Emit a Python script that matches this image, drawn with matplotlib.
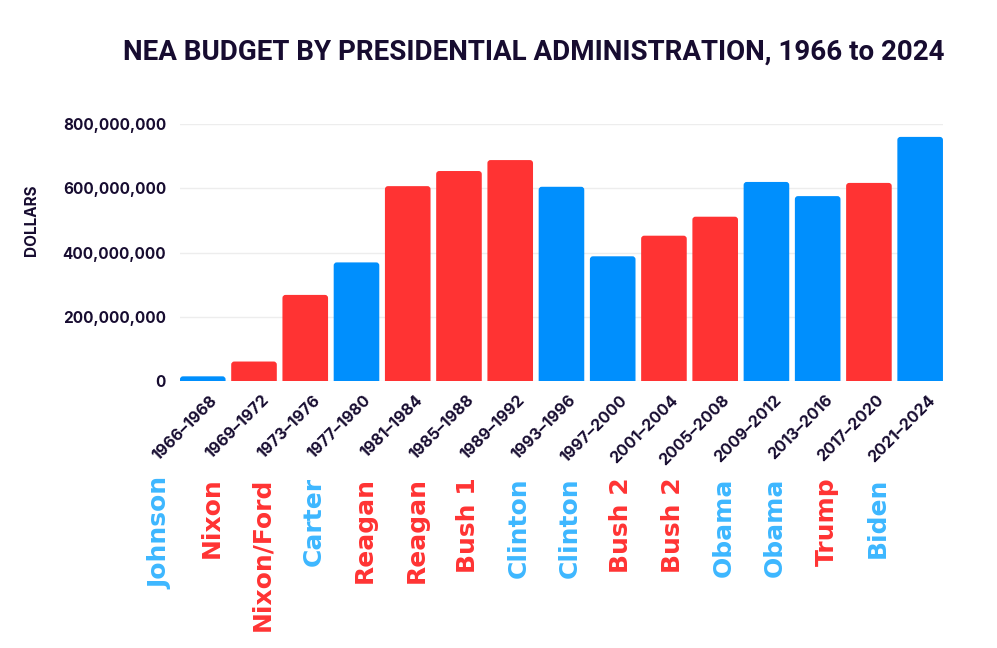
import matplotlib.pyplot as plt
import matplotlib.ticker as mticker
from matplotlib.patches import FancyBboxPatch
import numpy as np


terms = [
    "1966–1968", "1969–1972", "1973–1976", "1977–1980", "1981–1984",
    "1985–1988", "1989–1992", "1993–1996", "1997–2000", "2001–2004",
    "2005–2008", "2009–2012", "2013–2016", "2017–2020", "2021–2024",
]

presidents = [
    "Johnson", "Nixon", "Nixon/Ford", "Carter", "Reagan",
    "Reagan", "Bush 1", "Clinton", "Clinton", "Bush 2",
    "Bush 2", "Obama", "Obama", "Trump", "Biden",
]

# D = Democrat, R = Republican
parties = ["D", "R", "R", "D", "R", "R", "R", "D", "D", "R", "R", "D", "D", "R", "D"]

budget = [
    16e6, 62e6, 269e6, 370e6, 607e6,
    654e6, 688e6, 605e6, 389e6, 453e6,
    512e6, 620e6, 576e6, 617e6, 760e6,
]

y_ticks = [0, 200e6, 400e6, 600e6, 800e6]

BAR_COLORS  = {"D": "#008ffd", "R": "#ff3333"}
NAME_COLORS = {"D": "#3db7ff", "R": "#ff3333"}
DARK = "#170c30"


fig = plt.figure(figsize=(9.97, 6.48), dpi=100)
ax = fig.add_axes([0.1805, 0.4113, 0.7653, 0.3973])

x = np.arange(len(terms))
bars = ax.bar(x, budget, width=0.89, color=[BAR_COLORS[p] for p in parties], zorder=3)

ax.set_xlim(-0.445, len(terms) - 1 + 0.445)
ax.set_ylim(0, 800e6)

# swap plain bars for ones with slightly rounded corners
# (bottom pushed below zero so only the top corners show)
aspect = (800e6 / 257.4) / (1 / 51.2)
for b in bars:
    b.set_visible(False)
    r = 0.06
    patch = FancyBboxPatch(
        (b.get_x(), -r * aspect), b.get_width(), b.get_height() + r * aspect,
        boxstyle=f"round,pad=0,rounding_size={r}", mutation_aspect=aspect,
        facecolor=b.get_facecolor(), edgecolor="none", zorder=3,
    )
    ax.add_patch(patch)

ax.set_yticks(y_ticks)
ax.yaxis.set_major_formatter(mticker.FuncFormatter(lambda v, _: f"{int(v):,}"))
ax.grid(axis="y", color="#ededed", linewidth=1, zorder=0)

for s in ax.spines.values():
    s.set_visible(False)

ax.tick_params(axis="both", length=0)
ax.tick_params(axis="y", pad=10)
for lbl in ax.get_yticklabels():
    lbl.set_fontfamily("Inter")
    lbl.set_fontweight("bold")
    lbl.set_fontsize(11)
    lbl.set_color(DARK)

ax.set_xticks(x)
ax.set_xticklabels([])

# rotated term labels under the bars
for i, t in enumerate(terms):
    ax.annotate(
        t, xy=(i, 0), xycoords=("data", "axes fraction"),
        xytext=(5, -8), textcoords="offset points",
        rotation=45, ha="right", va="top", rotation_mode="anchor",
        fontsize=11.5, fontweight="bold", family="Inter", color=DARK,
    )

# president names
for i, (name, p) in enumerate(zip(presidents, parties)):
    ax.annotate(
        name, xy=(i - 0.83, 0), xycoords=("data", "axes fraction"),
        xytext=(0, -69), textcoords="offset points",
        rotation=90, ha="center", va="top",
        fontsize=18, fontweight="bold", family="DejaVu Sans",
        color=NAME_COLORS[p],
    )

fig.text(0.032, 0.66, "DOLLARS", rotation=90, ha="center", va="center",
         fontsize=11, fontweight="bold", family="Inter", color=DARK)

fig.text(0.947, 0.92, "NEA BUDGET BY PRESIDENTIAL ADMINISTRATION, 1966 to 2024",
         ha="right", va="center", fontsize=20, fontweight="bold",
         family="Roboto", color=DARK)

fig.savefig("out.png", dpi=100)
